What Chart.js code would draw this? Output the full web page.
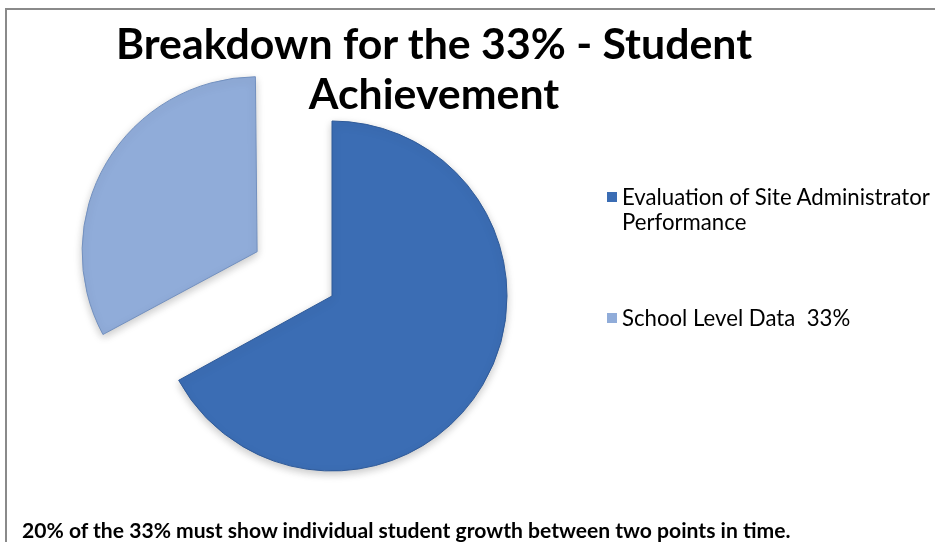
<!DOCTYPE html>
<html>
<head>
<meta charset="utf-8">
<script src="https://cdn.jsdelivr.net/npm/chart.js@4.4.1/dist/chart.umd.min.js"></script>
<style>
  html, body { margin: 0; padding: 0; background: #fff; }
  body { width: 935px; height: 542px; position: relative; overflow: hidden; font-family: Lato, "Open Sans", sans-serif; }
  #frame { position: absolute; left: 5px; top: 8px; width: 960px; height: 560px; border-top: 2px solid #8a8a8a; border-left: 2px solid #8a8a8a; }
  #grafico { position: absolute; left: 0; top: 0; }
  .titulo { position: absolute; left: 34px; width: 800px; text-align: center; font-weight: bold; font-size: 42.8px; line-height: 50px; color: #000; white-space: nowrap; }
  #leyenda { position: absolute; left: 606px; top: 184px; }
  .item { position: absolute; left: 0; width: 330px; font-size: 22.2px; line-height: 25px; color: #000; padding-left: 16px; white-space: pre; }
  .item span.caja { position: absolute; left: 1px; top: 8px; width: 10px; height: 10px; }
  #pie { position: absolute; left: 22px; top: 517px; font-weight: bold; font-size: 21.1px; line-height: 26px; white-space: nowrap; }
</style>
</head>
<body>
<div id="frame"></div>
<canvas id="grafico" width="935" height="542"></canvas>
<div class="titulo" style="top:18px">Breakdown for the 33% - Student</div>
<div class="titulo" style="top:68px">Achievement</div>
<div id="leyenda"></div>
<div id="pie">20% of the 33% must show individual student growth between two points in time.</div>
<script>
const categorias = ['Evaluation of Site Administrator Performance', 'School Level Data  33%'];
const valores = [67, 33];
const colores = ['#3b6db4', '#90acd9'];
const bordes = ['#2f5a98', '#7290bf'];
// Chart.js v4 dibuja offset/4, por eso 348 -> ~87px
const desplazamientos = [0, 348];

// leyenda en HTML, armada desde las categorias
const leyenda = document.getElementById('leyenda');
const posiciones = [0, 121];
const lineas = [['Evaluation of Site Administrator', 'Performance'], ['School Level Data  33%']];
categorias.forEach((texto, i) => {
    const div = document.createElement('div');
    div.className = 'item';
    div.style.top = posiciones[i] + 'px';
    div.innerHTML = '<span class="caja" style="background:' + colores[i] + '"></span>' + lineas[i].join('\n');
    leyenda.appendChild(div);
});

// el offset agranda el radio de la porcion chica; lo dejamos igual al resto
// y ponemos una sombra suave debajo del pie
const ajustePie = {
    id: 'ajustePie',
    beforeDatasetsDraw(chart) {
        const meta = chart.getDatasetMeta(0);
        const radio = meta.controller.outerRadius;
        meta.data.forEach(arc => {
            const off = (arc.options.offset || 0) / 4;
            const fix = 1 - Math.sin(Math.min(Math.PI, arc.circumference));
            arc.outerRadius = radio - off * fix;
        });
        const ctx = chart.ctx;
        ctx.save();
        ctx.shadowColor = 'rgba(0,0,0,0.22)';
        ctx.shadowBlur = 8;
        ctx.shadowOffsetY = 3;
    },
    afterDatasetsDraw(chart) {
        chart.ctx.restore();
    }
};

const dataPie = {
    labels: categorias,
    datasets: [{
        data: valores,
        backgroundColor: colores,
        borderColor: bordes,
        borderWidth: 1,
        offset: desplazamientos
    }]
};

const configPie = {
    type: 'pie',
    data: dataPie,
    options: {
        responsive: false,
        animation: false,
        radius: 175,
        layout: {
            padding: { left: 0, right: 271, top: 50, bottom: 0 }
        },
        plugins: {
            legend: { display: false },
            title: { display: false },
            tooltip: { enabled: false }
        }
    },
    plugins: [ajustePie]
};

new Chart(document.getElementById('grafico'), configPie);
</script>
</body>
</html>
